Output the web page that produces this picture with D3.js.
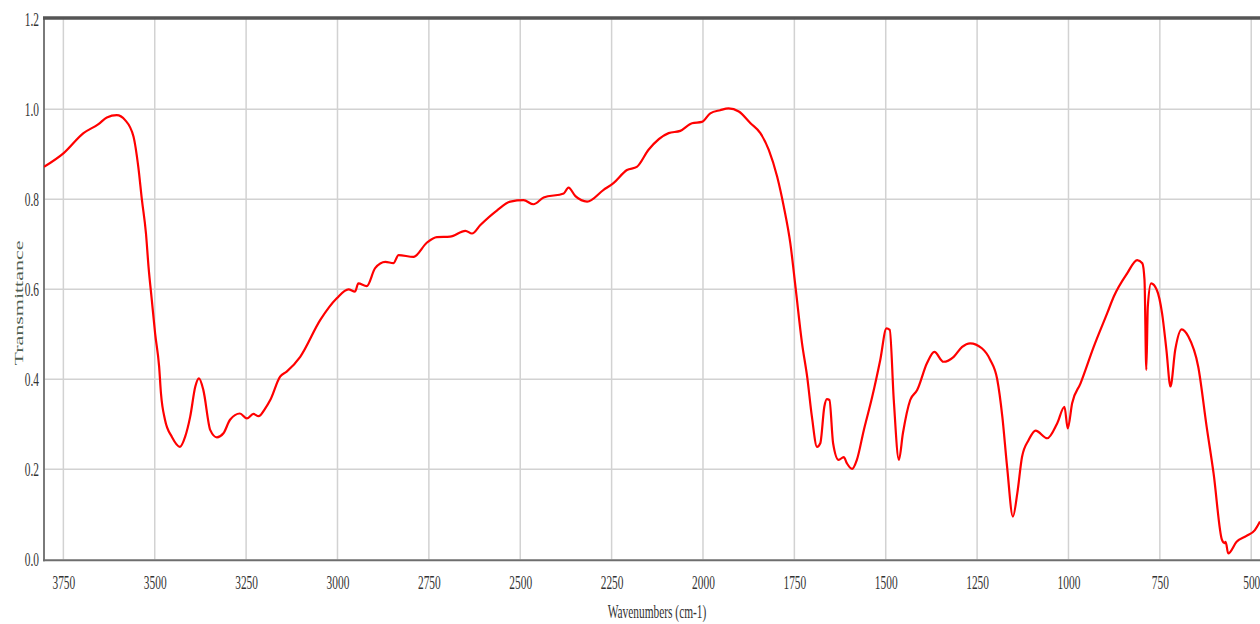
<!DOCTYPE html>
<html><head><meta charset="utf-8">
<script src="https://cdn.jsdelivr.net/npm/d3@7"></script>
<style>body{margin:0;background:#fff}svg{display:block}</style></head>
<body><svg id="c" width="1260" height="624"></svg>
<script>
const wavenumbers=[3803,3750,3695,3654,3631,3604,3581,3558,3545,3535,3524,3517,3508,3499,3488,3483,3472,3453,3431,3417,3403,3389,3379,3367,3348,3330,3312,3294,3267,3248,3230,3216,3198,3184,3157,3139,3102,3047,3002,2970,2952,2943,2920,2897,2869,2847,2833,2792,2755,2728,2692,2650,2632,2609,2564,2527,2491,2464,2436,2381,2368,2349,2317,2272,2245,2208,2181,2149,2094,2062,2030,2003,1980,1953,1930,1902,1870,1843,1820,1797,1779,1761,1747,1729,1715,1702,1688,1679,1668,1661,1654,1644,1629,1615,1606,1592,1579,1560,1537,1515,1498,1489,1478,1464,1453,1433,1414,1387,1367,1342,1314,1291,1269,1237,1214,1195,1181,1168,1152,1140,1127,1109,1090,1058,1031,1011,1002,990,967,931,894,876,839,812,798,792,787,783,774,758,744,732,721,708,690,672,645,622,603,580,573,570,563,540,513,490,476];
const transmittance=[0.872,0.902,0.947,0.967,0.982,0.987,0.976,0.939,0.872,0.798,0.724,0.650,0.576,0.502,0.428,0.369,0.310,0.272,0.250,0.272,0.317,0.384,0.402,0.376,0.287,0.271,0.280,0.310,0.324,0.313,0.323,0.318,0.335,0.354,0.406,0.417,0.450,0.532,0.580,0.600,0.595,0.613,0.607,0.647,0.661,0.658,0.676,0.672,0.704,0.716,0.717,0.730,0.724,0.743,0.775,0.795,0.798,0.789,0.804,0.813,0.826,0.807,0.795,0.821,0.836,0.865,0.872,0.910,0.947,0.952,0.969,0.972,0.991,0.998,1.002,0.995,0.969,0.947,0.910,0.850,0.784,0.702,0.606,0.480,0.406,0.317,0.250,0.258,0.339,0.356,0.354,0.258,0.221,0.227,0.213,0.201,0.221,0.287,0.361,0.443,0.513,0.510,0.354,0.221,0.280,0.354,0.376,0.436,0.461,0.439,0.450,0.472,0.480,0.469,0.443,0.400,0.317,0.206,0.095,0.147,0.228,0.265,0.286,0.269,0.302,0.339,0.291,0.347,0.391,0.472,0.547,0.584,0.636,0.665,0.658,0.621,0.421,0.561,0.613,0.598,0.547,0.465,0.384,0.465,0.511,0.495,0.428,0.295,0.191,0.043,0.036,0.039,0.013,0.039,0.052,0.065,0.084];
const xTicks=[3750,3500,3250,3000,2750,2500,2250,2000,1750,1500,1250,1000,750,500];
const yTicks=[0,0.2,0.4,0.6,0.8,1.0,1.2];
const xTitle="Wavenumbers (cm-1)";
const yTitle="Transmittance";

const svg=d3.select('#c');
const L=44,R=1260,T=19.3,B=559.3;
const x=d3.scaleLinear().domain([3803,476]).range([L,R]);
const y=d3.scaleLinear().domain([0,1.2]).range([B,T]);
const SX=0.6;
const font='"Liberation Serif","Times New Roman",serif';

svg.append('rect').attr('width',1260).attr('height',624).attr('fill','#fff');

// grid
const grid=svg.append('g').attr('stroke','#d2d2d2').attr('stroke-width',1.5);
grid.selectAll('line.v').data(xTicks).join('line').attr('class','v')
  .attr('x1',d=>x(d)).attr('x2',d=>x(d)).attr('y1',T).attr('y2',B);
grid.selectAll('line.h').data(yTicks.filter(d=>d>0&&d<1.2)).join('line').attr('class','h')
  .attr('x1',L).attr('x2',R).attr('y1',d=>y(d)).attr('y2',d=>y(d));

// axes lines
svg.append('line').attr('x1',L).attr('x2',L).attr('y1',T-2).attr('y2',B+2).attr('stroke','#7a7a7a').attr('stroke-width',2);
svg.append('line').attr('x1',L-1).attr('x2',R).attr('y1',B+1).attr('y2',B+1).attr('stroke','#6e6e6e').attr('stroke-width',2);
svg.append('line').attr('x1',L-1).attr('x2',R).attr('y1',T-1.3).attr('y2',T-1.3).attr('stroke','#555').attr('stroke-width',3.5);

// line
svg.append('clipPath').attr('id','clip').append('rect').attr('x',L).attr('y',T).attr('width',R-L).attr('height',B-T);
const data=wavenumbers.map((w,i)=>[w,transmittance[i]]);
svg.append('path').datum(data).attr('clip-path','url(#clip)')
  .attr('fill','none').attr('stroke','#ff0000').attr('stroke-width',2.2).attr('stroke-linejoin','round')
  .attr('d',d3.line().x(d=>x(d[0])).y(d=>y(d[1])).curve(d3.curveMonotoneX));

// x tick labels
const xg=svg.append('g').attr('transform',`translate(0,${B})`)
  .call(d3.axisBottom(x).tickValues(xTicks).tickSize(0).tickPadding(0).tickFormat(d3.format('d')));
xg.select('.domain').remove();
xg.selectAll('text').attr('y',23).attr('dy','0.35em').attr('transform',`scale(${SX},1)`)
  .attr('font-family',font).attr('font-size',19).attr('fill','#333');

// y tick labels
const yg=svg.append('g').attr('transform',`translate(${L},0)`)
  .call(d3.axisLeft(y).tickValues(yTicks).tickSize(0).tickPadding(0).tickFormat(d3.format('.1f')));
yg.select('.domain').remove();
yg.selectAll('text').attr('x',-5/SX).attr('dy','0.35em').attr('transform',`scale(${SX},1)`)
  .attr('font-family',font).attr('font-size',19).attr('fill','#333');

// titles
svg.append('text').attr('transform',`translate(657,611) scale(${SX},1)`).attr('text-anchor','middle')
  .attr('dy','0.35em').attr('font-family',font).attr('font-size',19).attr('fill','#333').text(xTitle);
svg.append('text').attr('transform',`translate(18,303) scale(${SX},1) rotate(-90)`).attr('text-anchor','middle')
  .attr('dy','0.35em').attr('font-family',font).attr('font-size',22).attr('fill','#4f5e50').text(yTitle);
</script></body></html>
